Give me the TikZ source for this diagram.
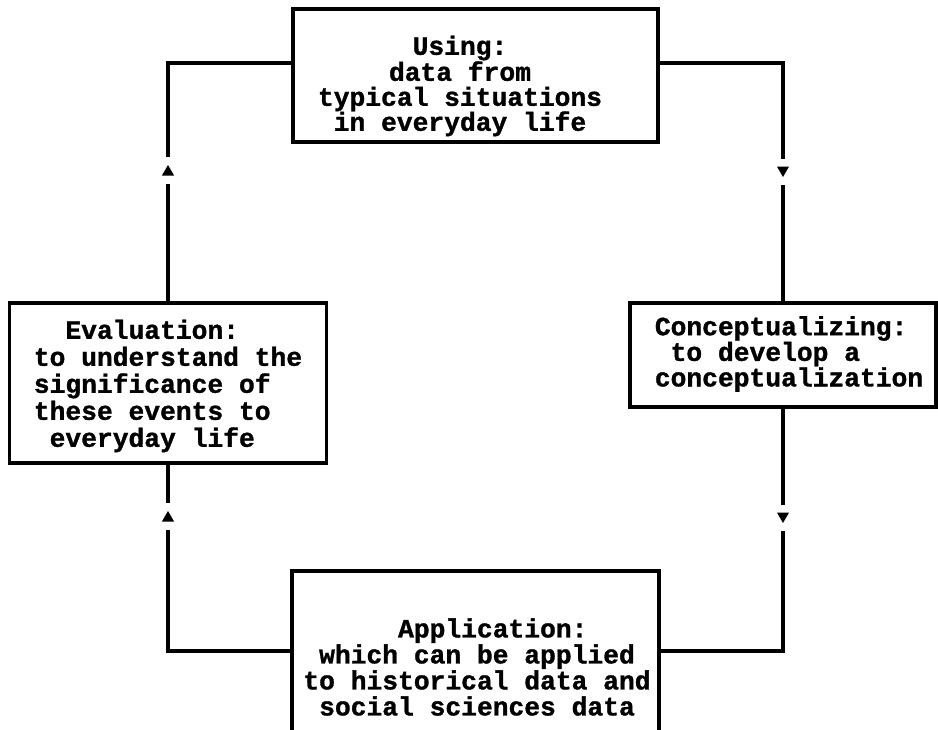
\documentclass[tikz,border=0pt]{standalone}
\usepackage{fontspec}
\newfontfamily\courfont[BoldFeatures={FakeBold=1.2}]{Liberation Mono}
\usetikzlibrary{shapes.geometric}
\begin{document}
\begin{tikzpicture}[x=1pt,y=1pt,
  box/.style={draw, line width=3.3pt, inner sep=0pt, outer sep=0pt},
  conn/.style={line width=3.3pt},
  txt/.style={inner sep=0pt, font=\courfont\bfseries\fontsize{26.3pt}{#1}\selectfont},
  tri/.style={regular polygon, regular polygon sides=3, fill=black, draw=none, inner sep=0pt, outer sep=0pt, minimum size=14pt}]
\fill[white] (0,0) rectangle (938,-729);
\useasboundingbox (0,0) rectangle (938,-729);

\node[box, minimum width=365pt, minimum height=133pt] (top) at (475.5,-75.5) {};
\node[box, minimum width=317pt, minimum height=160pt] (eval) at (168,-383) {};
\node[box, minimum width=306pt, minimum height=104pt] (concept) at (783,-355) {};
\node[box, minimum width=367pt, minimum height=192pt] (app) at (475.5,-667) {};

\node[txt=25pt, align=center] (toptxt) at (460,-86) {Using:\\data from\\typical situations\\in everyday life};
\node[txt=27pt, align=left] (evaltxt) at (168,-386) {\phantom{xx}Evaluation:\\to understand the\\significance of\\these events to\\\phantom{x}everyday life};
\node[txt=24pt, align=left] (concepttxt) at (789,-354) {Conceptualizing:\\\phantom{x}to develop a\\conceptualization};
\node[txt=26pt, align=left] (apptxt) at (477,-667) {\phantom{xxxxxx}Application:\\\phantom{x}which can be applied\\to historical data and\\\phantom{x}social sciences data};

\coordinate (jTL) at (168,-63);
\coordinate (jTR) at (783,-63);
\coordinate (jBL) at (168,-651);
\coordinate (jBR) at (783,-651);

\node[tri] (triL) at (168,-172) {};
\node[tri, shape border rotate=180] (triR) at (783,-170) {};
\node[tri] (triBL) at (168,-518) {};
\node[tri, shape border rotate=180] (triBR) at (783,-516) {};

\draw[conn, shorten >=8pt] (top.west |- jTL) -| (triL);
\draw[conn, shorten <=8pt] (triL) -- (eval.north);
\draw[conn, shorten >=8pt] (top.east |- jTR) -| (triR);
\draw[conn, shorten <=8pt] (triR) -- (concept.north);
\draw[conn, shorten >=8pt] (concept.south) -- (triBR);
\draw[conn, shorten <=8pt] (triBR) |- (app.east |- jBR);
\draw[conn, shorten >=8pt] (app.west |- jBL) -| (triBL);
\draw[conn, shorten <=8pt] (triBL) -- (eval.south);
\end{tikzpicture}
\end{document}
